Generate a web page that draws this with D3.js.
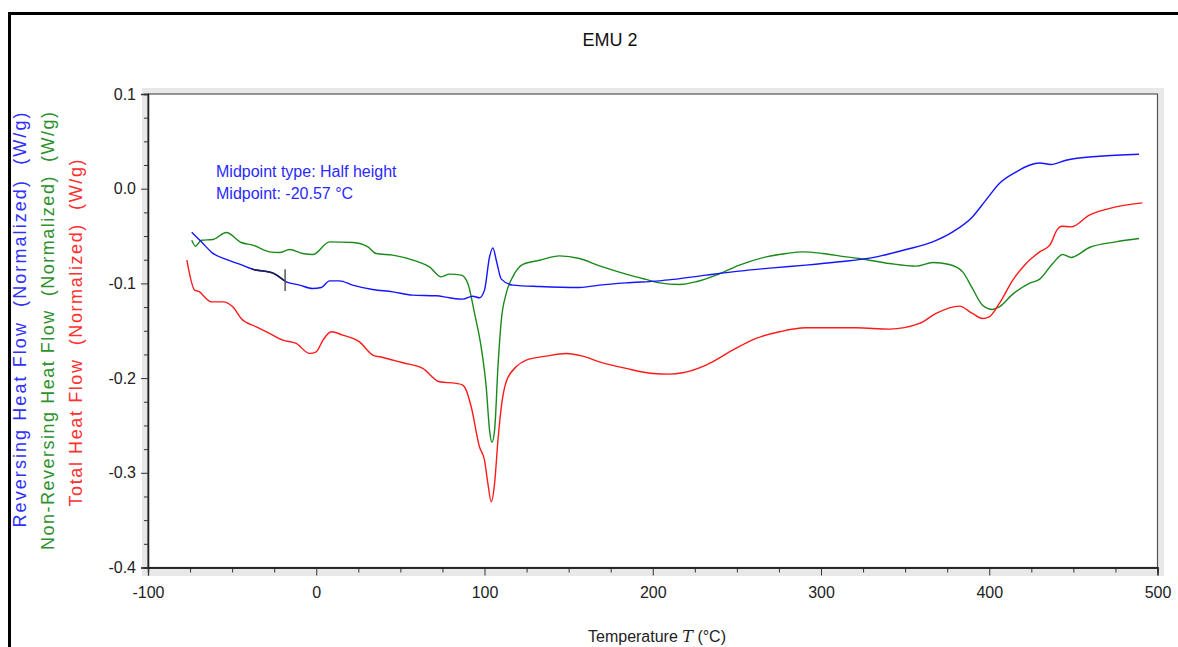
<!DOCTYPE html>
<html>
<head>
<meta charset="utf-8">
<script src="https://cdn.jsdelivr.net/npm/d3@7"></script>
<style>
  body { margin: 0; background: #fff; }
  svg text { font-family: "Liberation Sans", Arial, sans-serif; }
</style>
</head>
<body>
<svg id="chart"></svg>
<script>
const w = 1178, h = 647;

// [temperature °C, heat flow W/g]
const reversing = [
  [-74,-0.046],[-68.3,-0.056],[-61.6,-0.068],[-53.5,-0.0747],[-45.6,-0.0797],[-37.8,-0.085],
  [-26,-0.0889],[-17.8,-0.0983],[-9.9,-0.1018],[-2.2,-0.1054],[3,-0.1043],[7.9,-0.0973],
  [13.8,-0.0973],[21.6,-0.1018],[33.5,-0.1064],[45.4,-0.1089],[57.2,-0.1124],[71.3,-0.1131],
  [79.2,-0.1152],[87.1,-0.1166],[93,-0.1135],[97,-0.1152],[100,-0.1071],[103,-0.072],
  [105,-0.0625],[107,-0.0755],[110,-0.0955],[116.8,-0.1018],[132.7,-0.1033],[156.5,-0.1043],
  [168.3,-0.1018],[184,-0.0994],[204,-0.0973],[212,-0.0958],[231.7,-0.0913],[251.5,-0.087],
  [271.3,-0.0836],[291,-0.0807],[310.9,-0.0772],[330.7,-0.0728],[350.6,-0.0642],[366.4,-0.0561],
  [378.3,-0.0456],[390,-0.0298],[398,-0.0121],[406,0.0055],[416,0.0177],[423.8,0.0248],
  [430,0.0272],[436.7,0.0255],[445.6,0.0301],[465.4,0.0343],[489,0.0364]
];

const nonReversing = [
  [-74,-0.0544],[-71.7,-0.0607],[-68.3,-0.0544],[-61.4,-0.0536],[-53.5,-0.0462],[-44.6,-0.0568],
  [-37.7,-0.0596],[-27.8,-0.0667],[-21.8,-0.0674],[-15.9,-0.0642],[-8,-0.0684],[-2,-0.0695],
  [7.9,-0.0561],[21.8,-0.0568],[30.7,-0.0614],[35.6,-0.0684],[45.5,-0.0702],[59.4,-0.0765],
  [67.3,-0.0825],[74.3,-0.0931],[79.2,-0.0902],[86.2,-0.0913],[90.1,-0.1],[94.1,-0.1317],
  [98,-0.167],[101,-0.2092],[103,-0.2549],[104.4,-0.2679],[106,-0.2549],[108,-0.1881],
  [110,-0.1388],[112.9,-0.1106],[116.8,-0.0931],[122.8,-0.08],[132.7,-0.0755],[144.6,-0.0709],
  [156.5,-0.0737],[168.3,-0.0815],[184.2,-0.0902],[196,-0.0958],[204,-0.0994],[216,-0.1011],
  [225.8,-0.0983],[237.7,-0.0913],[251.5,-0.0807],[267.4,-0.072],[279.3,-0.0684],[289,-0.0667],
  [301,-0.0684],[315,-0.072],[322.8,-0.0737],[340.7,-0.079],[356.5,-0.0818],[366.4,-0.0779],
  [376.3,-0.08],[384.2,-0.0878],[390,-0.1053],[396,-0.123],[402,-0.1275],[406,-0.1247],
  [414,-0.1113],[423.8,-0.1],[430,-0.0955],[437.7,-0.079],[443.6,-0.0695],[448.6,-0.0726],
  [459.5,-0.0621],[475.3,-0.0561],[489,-0.0526]
];

const total = [
  [-76.9,-0.0755],[-72.3,-0.1071],[-69.3,-0.1089],[-67.4,-0.1124],[-62.4,-0.1195],[-55.5,-0.1195],
  [-49.6,-0.1247],[-44.6,-0.137],[-35.6,-0.1459],[-27.8,-0.1528],[-19.8,-0.1599],[-11.9,-0.1634],
  [-4,-0.1739],[0,-0.1722],[4,-0.1599],[8.9,-0.1511],[15.8,-0.1546],[25.7,-0.1617],
  [33.6,-0.1757],[39.6,-0.1782],[51.5,-0.1838],[63.3,-0.1898],[73.3,-0.2039],[83.2,-0.2056],
  [87.1,-0.2074],[89.1,-0.2127],[92.1,-0.2303],[97,-0.2725],[100,-0.2866],[102,-0.3111],
  [104,-0.3306],[106,-0.3111],[108,-0.2654],[110,-0.2303],[112.9,-0.2039],[118.8,-0.1881],
  [124.8,-0.181],[136.7,-0.1768],[148.5,-0.174],[158.4,-0.1768],[168.3,-0.1828],[184.2,-0.1898],
  [200,-0.1951],[210,-0.1958],[217.8,-0.1944],[231.7,-0.1863],[247.5,-0.1705],[261.4,-0.1581],
  [275.3,-0.1511],[291,-0.1469],[320.9,-0.1469],[340.7,-0.1483],[358.5,-0.1423],[368.4,-0.1317],
  [382.2,-0.124],[390,-0.1317],[396,-0.137],[400,-0.1353],[406,-0.1212],[414,-0.0966],
  [421.9,-0.0789],[430,-0.0667],[436,-0.0596],[440.5,-0.043],[443,-0.0396],[448.6,-0.0403],
  [459.5,-0.028],[475.3,-0.0192],[491,-0.015]
];

const xMajor = [-100, 0, 100, 200, 300, 400, 500];
const yMajor = [0.1, 0.0, -0.1, -0.2, -0.3, -0.4];
const yLabels = ['0.1', '0.0', '-0.1', '-0.2', '-0.3', '-0.4'];

// glass transition markers on the reversing curve
const midRange = [-38.5, -18.5];
const midpointT = -18.5;
const midNotes = ['Midpoint type: Half height', 'Midpoint: -20.57 °C'];

const colors = { rev: '#1414ff', non: '#1a8a1a', tot: '#ff1a1a' };

const chart = d3.select('#chart').attr('width', w).attr('height', h);

// outer frame of the exported picture
chart.append('rect')
  .attr('x', 9.5).attr('y', 13.5)
  .attr('width', 1300).attr('height', 800)
  .attr('fill', 'none').attr('stroke', '#000').attr('stroke-width', 3);

const xScale = d3.scaleLinear().domain([-100, 500]).range([148, 1157.5]);
const yScale = d3.scaleLinear().domain([-0.4, 0.1]).range([567.5, 94]);

// grey bevel round the plot area
chart.append('rect')
  .attr('x', 142).attr('y', 88)
  .attr('width', 1164 - 142).attr('height', 576 - 88)
  .attr('fill', '#e8e8e8');
chart.append('rect')
  .attr('x', xScale(-100)).attr('y', yScale(0.1))
  .attr('width', xScale(500) - xScale(-100))
  .attr('height', yScale(-0.4) - yScale(0.1))
  .attr('fill', '#fff').attr('stroke', '#555').attr('stroke-width', 1.2);

chart.append('text')
  .attr('x', 610).attr('y', 46)
  .attr('text-anchor', 'middle')
  .attr('font-size', '18px')
  .attr('fill', '#111')
  .text('EMU 2');

// axes: major and minor ticks
const styleAxis = (g) => {
  g.select('.domain').attr('stroke', '#222').attr('stroke-width', 1.3);
  g.selectAll('.tick line').attr('stroke', '#333');
};

const xMinor = d3.range(-100, 501, 25).filter(d => d % 100 !== 0);
const yMinor = d3.range(-0.4, 0.1001, 0.025).filter(d => Math.abs(Math.round(d * 10) - d * 10) > 1e-6);

chart.append('g')
  .attr('transform', `translate(0, ${yScale(-0.4)})`)
  .call(d3.axisBottom(xScale).tickValues(xMinor).tickSize(5).tickFormat(''))
  .call(styleAxis);
chart.append('g')
  .attr('transform', `translate(0, ${yScale(-0.4)})`)
  .call(d3.axisBottom(xScale).tickValues(xMajor).tickSize(8).tickPadding(11).tickFormat(d => String(d)))
  .call(styleAxis)
  .selectAll('text')
  .attr('font-size', '16px')
  .attr('fill', '#222');

chart.append('g')
  .attr('transform', `translate(${xScale(-100)}, 0)`)
  .call(d3.axisLeft(yScale).tickValues(yMinor).tickSize(4).tickFormat(''))
  .call(styleAxis);
chart.append('g')
  .attr('transform', `translate(${xScale(-100)}, 0)`)
  .call(d3.axisLeft(yScale).tickValues(yMajor).tickSize(7).tickPadding(5)
    .tickFormat((d, i) => yLabels[i]))
  .call(styleAxis)
  .selectAll('text')
  .attr('font-size', '16px')
  .attr('fill', '#222');

// axis titles
const xTitle = chart.append('text')
  .attr('x', 657).attr('y', 642)
  .attr('text-anchor', 'middle')
  .attr('font-size', '16px')
  .attr('fill', '#222');
xTitle.append('tspan').text('Temperature ');
xTitle.append('tspan').attr('font-style', 'italic').attr('font-family', 'DejaVu Serif, serif').text('T');
xTitle.append('tspan').text(' (°C)');

const yTitles = [
  { text: 'Reversing Heat Flow  (Normalized)  (W/g)', x: 26, c: 320, len: 415, color: '#3030ff' },
  { text: 'Non-Reversing Heat Flow  (Normalized)  (W/g)', x: 54, c: 331, len: 438, color: '#2e912e' },
  { text: 'Total Heat Flow  (Normalized)  (W/g)', x: 82, c: 333, len: 347, color: '#ff3030' }
];
chart.selectAll('.ytitle')
  .data(yTitles)
  .enter()
  .append('text')
  .attr('class', 'ytitle')
  .attr('transform', d => `translate(${d.x}, ${d.c}) rotate(-90)`)
  .attr('text-anchor', 'middle')
  .attr('font-size', '18px')
  .attr('textLength', d => d.len)
  .attr('lengthAdjust', 'spacing')
  .style('white-space', 'pre')
  .attr('fill', d => d.color)
  .text(d => d.text);

// curves
const line = d3.line()
  .x(d => xScale(d[0]))
  .y(d => yScale(d[1]))
  .curve(d3.curveMonotoneX);

const plot = chart.append('g');
[[nonReversing, colors.non], [total, colors.tot], [reversing, colors.rev]].forEach(([data, color]) => {
  plot.append('path')
    .datum(data)
    .attr('d', line)
    .attr('fill', 'none')
    .attr('stroke', color)
    .attr('stroke-width', 1.4);
});

// dark overlay on the analysed part of the reversing curve
const revAt = (t) => {
  const i = d3.bisector(d => d[0]).left(reversing, t);
  const a = reversing[i - 1], b = reversing[i];
  return a[1] + (b[1] - a[1]) * (t - a[0]) / (b[0] - a[0]);
};
const midSeg = [[midRange[0], revAt(midRange[0])]]
  .concat(reversing.filter(d => d[0] > midRange[0] && d[0] < midRange[1]))
  .concat([[midRange[1], revAt(midRange[1])]]);
plot.append('path')
  .datum(midSeg)
  .attr('d', line)
  .attr('fill', 'none')
  .attr('stroke', '#20204a')
  .attr('stroke-width', 1.6);

plot.append('line')
  .attr('x1', xScale(midpointT)).attr('x2', xScale(midpointT))
  .attr('y1', yScale(revAt(midpointT) + 0.0125))
  .attr('y2', yScale(revAt(midpointT) - 0.0105))
  .attr('stroke', '#555')
  .attr('stroke-width', 1.5);

chart.selectAll('.note')
  .data(midNotes)
  .enter()
  .append('text')
  .attr('class', 'note')
  .attr('x', 216)
  .attr('y', (d, i) => 177 + i * 22)
  .attr('font-size', '16px')
  .attr('fill', '#2a2aff')
  .text(d => d);
</script>
</body>
</html>
